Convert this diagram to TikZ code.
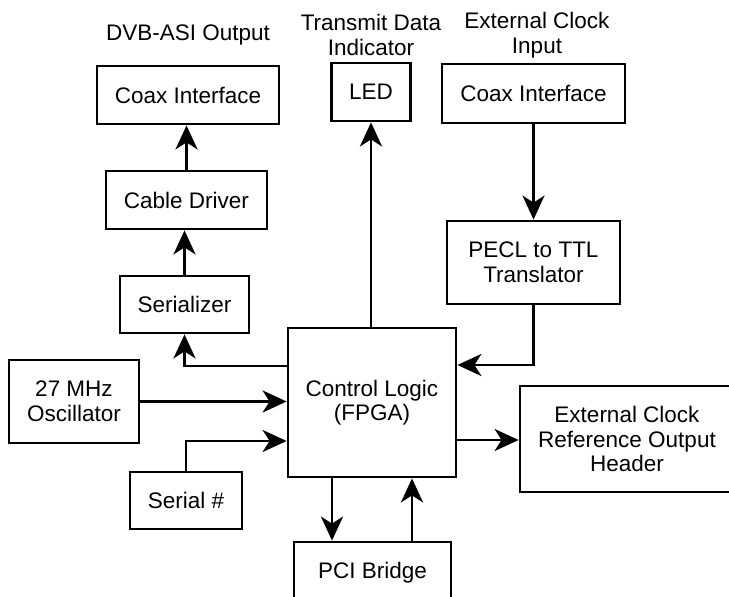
\documentclass[tikz,border=0pt]{standalone}
\usepackage{fontspec}
\setmainfont{Liberation Sans}
\usetikzlibrary{arrows.meta}
\begin{document}
\begin{tikzpicture}[x=1pt,y=-1pt,
  box/.style={draw, line width=2.8pt, inner sep=0pt, align=center, font=\fontsize{22.5}{24.5}\selectfont},
  lbl/.style={inner sep=0pt, align=center, font=\fontsize{22.5}{24.5}\selectfont},
  arr/.style={line width=2.8pt, -{Stealth[length=24pt,width=22pt,inset=7pt]}}]
\useasboundingbox (0,0) rectangle (729,597);
\clip (0,0) rectangle (729,597);
\node[box, minimum width=182pt, minimum height=58pt] (coaxL) at (188,95) {Coax Interface};
\node[box, minimum width=161pt, minimum height=58pt] (cable) at (186.5,200) {Cable Driver};
\node[box, minimum width=129pt, minimum height=57pt] (ser) at (184.5,304.5) {Serializer};
\node[box, minimum width=79pt, minimum height=58pt] (led) at (371,92) {LED};
\node[box, minimum width=183pt, minimum height=59pt] (coaxR) at (533.5,93.5) {Coax Interface};
\node[box, minimum width=173pt, minimum height=83pt] (pecl) at (533.5,262.5) {PECL to TTL\\Translator};
\node[box, minimum width=168pt, minimum height=149pt] (ctrl) at (372,402.5) {Control Logic\\(FPGA)};
\node[box, minimum width=130pt, minimum height=83pt] (osc) at (74,401.5) {27 MHz\\Oscillator};
\node[box, minimum width=112pt, minimum height=57pt] (serial) at (186,500.5) {Serial \#};
\node[box, minimum width=214pt, minimum height=106pt] (hdr) at (627,439) {External Clock\\Reference Output\\Header};
\node[box, minimum width=157pt, minimum height=62pt] (pci) at (372.5,573) {PCI Bridge};
\node[lbl] (dvb) at (188,35) {DVB-ASI Output};
\node[lbl] (tdi) at (371,35) {Transmit Data\\Indicator};
\node[lbl] (eci) at (537,35) {External Clock\\Input};
\draw[arr] (cable.north) -- (cable.north |- coaxL.south);
\draw[arr] (ser.north) -- (ser.north |- cable.south);
\draw[arr] (ctrl.west |- 0,366) -| (ser.south);
\draw[arr] (led.south |- ctrl.north) -- (led.south);
\draw[arr] (coaxR.south) -- (coaxR.south |- pecl.north);
\draw[arr] (pecl.south) |- (ctrl.east |- 0,365);
\draw[arr] (osc.east) -- (osc.east -| ctrl.west);
\draw[arr] (serial.north) |- (ctrl.west |- 0,441);
\draw[arr] (ctrl.east |- 0,440) -- (hdr.west |- 0,440);
\draw[arr] (ctrl.south -| 332,0) -- (pci.north -| 332,0);
\draw[arr] (pci.north -| 412,0) -- (ctrl.south -| 412,0);
\end{tikzpicture}
\end{document}
